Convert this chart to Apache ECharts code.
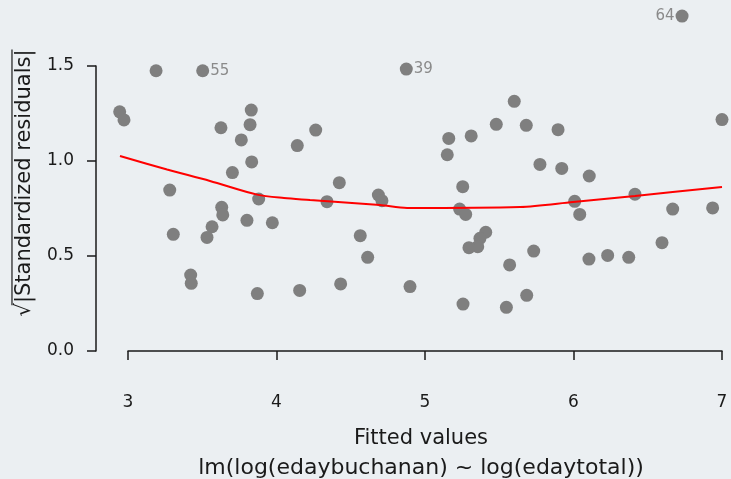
<!DOCTYPE html>
<html>
<head>
<meta charset="utf-8">
<script src="https://cdn.jsdelivr.net/npm/echarts@6/dist/echarts.min.js"></script>
<style>
  html, body { margin: 0; padding: 0; background: #ebeff2; }
  #chart { width: 731px; height: 479px; }
</style>
</head>
<body>
<div id="chart"></div>
<script>
// Scale-location diagnostics for lm(log(edaybuchanan) ~ log(edaytotal))
const fittedValues = [
  3.189, 3.503, 2.944, 2.973, 3.626, 3.830, 3.822, 3.763, 4.140, 3.833,
  3.703, 4.264, 3.281, 3.880, 3.631, 3.638, 3.801, 3.972, 3.566, 3.305,
  3.532, 3.422, 3.426, 3.871, 4.156, 4.874, 5.160, 5.150, 5.311, 5.480,
  5.601, 4.423, 4.340, 4.686, 4.710, 5.254, 5.233, 5.274, 4.564, 4.614,
  5.409, 5.370, 5.355, 5.296, 5.570, 4.432, 4.899, 5.256, 5.548, 6.731,
  5.682, 5.896, 7.000, 5.774, 5.921, 6.106, 6.008, 6.042, 6.414, 6.668,
  6.937, 5.732, 6.104, 6.230, 6.372, 6.596, 5.685
];
const sqrtStdResiduals = [
  1.475, 1.475, 1.259, 1.216, 1.175, 1.268, 1.191, 1.111, 1.081, 0.995,
  0.939, 1.163, 0.847, 0.800, 0.756, 0.716, 0.688, 0.675, 0.654, 0.614,
  0.598, 0.400, 0.356, 0.302, 0.319, 1.484, 1.119, 1.033, 1.132, 1.193,
  1.314, 0.886, 0.786, 0.821, 0.791, 0.865, 0.747, 0.719, 0.607, 0.493,
  0.625, 0.593, 0.549, 0.544, 0.453, 0.353, 0.339, 0.247, 0.230, 1.763,
  1.188, 1.165, 1.218, 0.982, 0.961, 0.921, 0.788, 0.719, 0.825, 0.747,
  0.753, 0.526, 0.484, 0.503, 0.493, 0.570, 0.293
];
// observation ids annotated next to the largest residuals
const pointIds = { 1: '55', 25: '39', 49: '64' };

// smoothed trend through the points
const smoothX = [2.946, 3.263, 3.552, 3.869, 4.050, 4.226, 4.697, 4.879, 5.640, 5.997, 6.414, 7.000];
const smoothY = [1.026, 0.955, 0.895, 0.823, 0.805, 0.795, 0.768, 0.753, 0.758, 0.784, 0.816, 0.863];

const xTicks = [3, 4, 5, 6, 7];
const yTicks = [0, 0.5, 1.0, 1.5];
// data window of the plotting region (a little wider than the labelled axes)
const xWindow = [2.9, 7.0];
const yWindow = [0, 1.8];

const FONT = '"DejaVu Sans", sans-serif';
const INK = '#1a1a1a';

const points = fittedValues.map((x, i) => {
  const item = { value: [x, sqrtStdResiduals[i]] };
  if (pointIds[i] !== undefined) {
    item.label = {
      show: true,
      formatter: pointIds[i],
      position: pointIds[i] === '64' ? 'left' : 'right',
      distance: 1,
      color: '#8a8a8a',
      fontSize: 15,
      fontFamily: FONT
    };
  }
  return item;
});

// 148.5 px per fitted unit, 190 px per residual unit
const PX_X = 148.5, PX_Y = 190;
const axisRight = 9, axisBottom = 128, axisLeft = 128, axisTop = 66;

// y-axis title: radical sign whose bar runs over the whole label
const yTitle = '√|Standardized residuals|';
const yTitleSize = 21;
const yTitleWidth = echarts.format.getTextRect
  ? echarts.format.getTextRect(yTitle, yTitleSize + 'px ' + FONT).width
  : 268;
const radicalWidth = echarts.format.getTextRect
  ? echarts.format.getTextRect('√', yTitleSize + 'px ' + FONT).width
  : 13;

const chart = echarts.init(document.getElementById('chart'), null, { renderer: 'canvas' });
chart.setOption({
  backgroundColor: '#ebeff2',
  animation: false,
  grid: [
    // labelled axes
    { left: axisLeft, right: axisRight, top: axisTop, bottom: axisBottom },
    // plotting region holding the marks
    {
      left: axisLeft - (xTicks[0] - xWindow[0]) * PX_X,
      right: axisRight,
      top: axisTop - (yWindow[1] - yTicks[yTicks.length - 1]) * PX_Y,
      bottom: axisBottom
    }
  ],
  xAxis: [
    {
      gridIndex: 0,
      type: 'value',
      min: xTicks[0], max: xTicks[xTicks.length - 1], interval: 1,
      offset: 14,
      axisLine: { show: true, lineStyle: { color: INK, width: 1.5 } },
      axisTick: { show: true, length: 9, lineStyle: { color: INK, width: 1.5 } },
      axisLabel: { fontSize: 17, color: INK, fontFamily: FONT, margin: 29 },
      splitLine: { show: false }
    },
    {
      gridIndex: 1, type: 'value', min: xWindow[0], max: xWindow[1],
      show: false, splitLine: { show: false }
    }
  ],
  yAxis: [
    {
      gridIndex: 0,
      type: 'value',
      min: yTicks[0], max: yTicks[yTicks.length - 1], interval: 0.5,
      offset: 32,
      axisLine: { show: true, lineStyle: { color: INK, width: 1.5 } },
      axisTick: { show: true, length: 9, lineStyle: { color: INK, width: 1.5 } },
      axisLabel: { fontSize: 17, color: INK, fontFamily: FONT, margin: 22,
                   formatter: v => v.toFixed(1) },
      splitLine: { show: false }
    },
    {
      gridIndex: 1, type: 'value', min: yWindow[0], max: yWindow[1],
      show: false, splitLine: { show: false }
    }
  ],
  graphic: [
    {
      type: 'text', x: 421, y: 439,
      style: { text: 'Fitted values', fontSize: 21, fill: INK, fontFamily: FONT,
               align: 'center', verticalAlign: 'middle' }
    },
    {
      type: 'text', x: 421, y: 468,
      style: { text: 'lm(log(edaybuchanan) ~ log(edaytotal))', fontSize: 22, fill: INK,
               fontFamily: FONT, align: 'center', verticalAlign: 'middle' }
    },
    {
      type: 'group', x: 25, y: 183,
      rotation: Math.PI / 2,
      children: [
        {
          type: 'text', x: 0, y: 0,
          style: { text: yTitle, fontSize: yTitleSize, fill: INK, fontFamily: FONT,
                   align: 'center', verticalAlign: 'middle' }
        },
        {
          type: 'line',
          shape: {
            x1: -yTitleWidth / 2 + radicalWidth * 0.85, y1: -yTitleSize * 0.62,
            x2: yTitleWidth / 2, y2: -yTitleSize * 0.62
          },
          style: { stroke: INK, lineWidth: 1.2 }
        }
      ]
    }
  ],
  series: [
    {
      type: 'scatter',
      xAxisIndex: 1, yAxisIndex: 1,
      data: points,
      symbolSize: 13,
      itemStyle: { color: '#7f7f7f', opacity: 1 },
      z: 2
    },
    {
      type: 'line',
      xAxisIndex: 1, yAxisIndex: 1,
      data: smoothX.map((x, i) => [x, smoothY[i]]),
      smooth: 0.3,
      showSymbol: false,
      lineStyle: { color: '#ff0000', width: 2 },
      z: 3
    }
  ]
});
</script>
</body>
</html>
